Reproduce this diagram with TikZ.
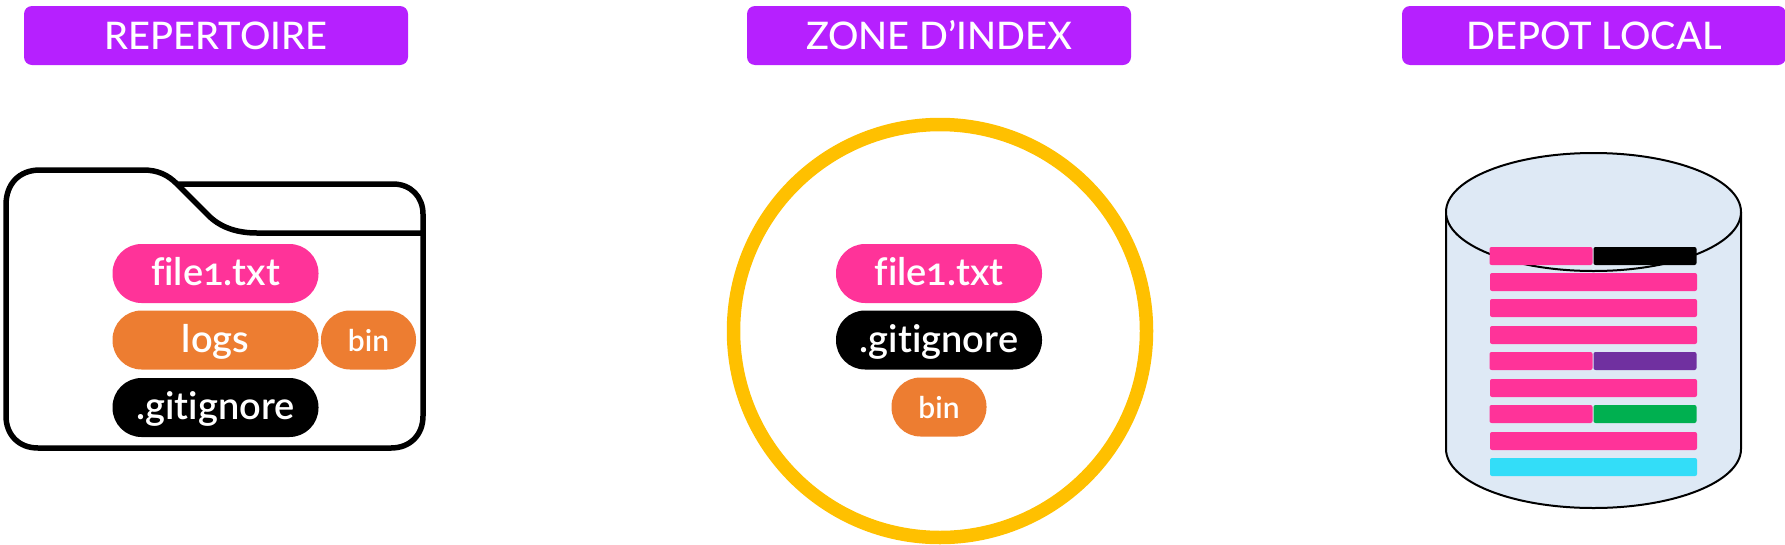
\documentclass[tikz,border=0pt]{standalone}
\usepackage{fontspec}
\setmainfont{Lato}[Ligatures=NoCommon, Numbers=OldStyle, BoldFont=Lato Semibold]
\newfontfamily\headfont{Lato Medium}
\definecolor{headviolet}{HTML}{B620FF}
\definecolor{filepink}{HTML}{FF3399}
\definecolor{dirorange}{HTML}{ED7D31}
\definecolor{indexgold}{HTML}{FFC000}
\definecolor{repoblue}{HTML}{DEE9F5}
\definecolor{commitpurple}{HTML}{7030A0}
\definecolor{commitgreen}{HTML}{00B050}
\definecolor{commitcyan}{HTML}{33DDF8}
\tikzset{
  header/.style={fill=headviolet, text=white, rounded corners=8pt, minimum width=384pt, minimum height=59pt, inner sep=0pt, text height=28pt, text depth=0pt, font=\headfont\fontsize{38}{38}\selectfont},
  pill/.style={text=white, rounded corners=29pt, minimum width=206pt, minimum height=59pt, inner sep=0pt, text height=24pt, text depth=0pt, font=\fontsize{38}{38}\selectfont\bfseries},
  smallpill/.style={pill, minimum width=95pt, text height=22pt, font=\fontsize{30}{30}\selectfont\bfseries},
  fullbar/.style={fill=filepink, rounded corners=2pt, minimum width=207pt, minimum height=18pt, inner sep=0pt},
  halfbar/.style={fullbar, minimum width=103pt},
}
\begin{document}
\begin{tikzpicture}[x=1pt,y=-1pt]
      \useasboundingbox (0,0) rectangle (1785,544);

      \node[header] (repertoire) at (216,35.5) {REPERTOIRE};
      \node[header] (index) at (939,35.5) {ZONE D’INDEX};
      \node[header] (depot) at (1594,35.5) {DEPOT LOCAL};

      % folder
      \draw[line width=5.5pt] (177,184) -- (393,184) .. controls (411,184) and (423,197) .. (423,214)
        -- (423,416) .. controls (423,435) and (410,448) .. (391,448) -- (38,448)
        .. controls (19,448) and (6,435) .. (6,416) -- (6,205)
        .. controls (6,184) and (19,170) .. (40,170) -- (143,170)
        .. controls (158,170) and (168,175) .. (177,184) -- (210,217)
        .. controls (222,228) and (238,233) .. (257,233) -- (423,233);

      \node[pill, fill=filepink] (file) at (215.5,273.5) {file1.txt};
      \node[pill, fill=dirorange] (logs) at (215.5,340) {logs};
      \node[smallpill, fill=dirorange] (bin) at (368.5,340) {bin};
      \node[pill, fill=black] (ignore) at (215.5,407.5) {.gitignore};

      % index
      \draw[indexgold, line width=13.5pt] (940,331) circle (206.5);

      \node[pill, fill=filepink] (indexfile) at (939,273.5) {file1.txt};
      \node[pill, fill=black] (indexignore) at (939,340) {.gitignore};
      \node[smallpill, fill=dirorange] (indexbin) at (939,407) {bin};

      % repository
      \draw[fill=repoblue, line width=2pt] (1446,212) -- (1446,449) arc (180:0:147.5 and 59) -- (1741,212);
      \draw[fill=repoblue, line width=2pt] (1593.5,212) ellipse (147.5 and 59);

      \node[halfbar] (bar1) at (1541,256) {};
      \node[halfbar, fill=black] (bar1b) at (1645,256) {};
      \foreach \n/\y in {2/282,3/308,4/335,6/388,8/441} {
          \node[fullbar] (bar\n) at (1593.5,\y) {};
        }
      \node[halfbar] (bar5) at (1541,361) {};
      \node[halfbar, fill=commitpurple] (bar5b) at (1645,361) {};
      \node[halfbar] (bar7) at (1541,414) {};
      \node[halfbar, fill=commitgreen] (bar7b) at (1645,414) {};
      \node[fullbar, fill=commitcyan] (bar9) at (1593.5,467) {};
    \end{tikzpicture}
\end{document}
